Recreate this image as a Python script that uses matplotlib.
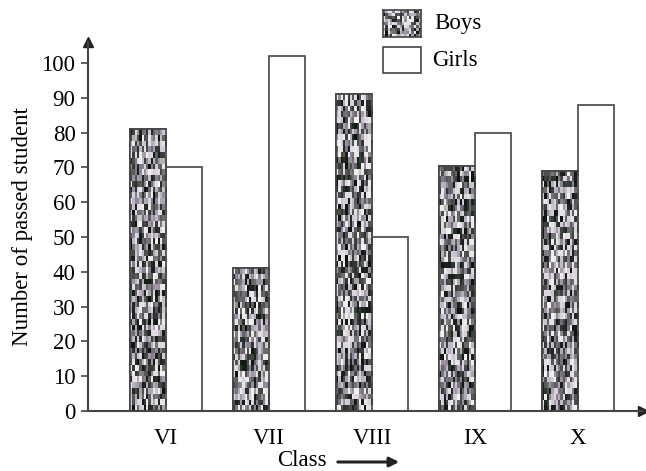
import numpy as np
import matplotlib.pyplot as plt
from matplotlib.patches import Rectangle
from matplotlib.colors import LinearSegmentedColormap

classes = ['VI', 'VII', 'VIII', 'IX', 'X']
boys = [81, 41, 91, 70.5, 69]
girls = [70, 102, 50, 80, 88]
yticks = [0, 10, 20, 30, 40, 50, 60, 70, 80, 90, 100]

plt.rcParams['font.family'] = ['Liberation Serif', 'DejaVu Serif']
fs = 16.5

W, H = 646, 471
fig = plt.figure(figsize=(W / 100, H / 100), dpi=100)
ax = fig.add_axes([88 / W, 60 / H, (643 - 88) / W, (411 - 42) / H])

x = np.arange(len(classes))
w = 0.35
edge = '#444444'

rng = np.random.default_rng(3)
# dark grey -> purplish grey -> near white, like the scanned fill
scan = LinearSegmentedColormap.from_list('scan', ['#0c1410', '#4a4f4a', '#8c8494', '#d8d2dc', '#f4f4f0'])


def noise_texture(rows, cols):
    # streaky noise, taller than wide
    base = rng.random((rows, cols)) ** 1.1
    return np.repeat(base, 2, axis=0)


boy_bars = ax.bar(x - w / 2, boys, w, color='#666666', edgecolor=edge, lw=1.2, zorder=2)
girl_bars = ax.bar(x + w / 2, girls, w, color='white', edgecolor=edge, lw=1.2, zorder=2)

for b in boy_bars:
    x0, y0 = b.get_x(), b.get_y()
    bw, bh = b.get_width(), b.get_height()
    img = noise_texture(int(bh * 0.6) + 1, 16)
    im = ax.imshow(img, cmap=scan, vmin=0, vmax=1, aspect='auto',
                   extent=[x0, x0 + bw, y0, y0 + bh], zorder=2.5,
                   interpolation='nearest')
    im.set_clip_path(b)
    ax.add_patch(Rectangle((x0, y0), bw, bh, fill=False, edgecolor=edge, lw=1.2, zorder=3))

ax.set_xlim(-0.757, 4.63)
ax.set_ylim(0, 106)
ax.set_yticks(yticks)
ax.set_xticks(x)
ax.set_xticklabels(classes)
ax.tick_params(axis='y', labelsize=fs, length=5, width=1.2, color=edge, pad=4)
ax.tick_params(axis='x', labelsize=fs, length=0, pad=12)
for s in ['top', 'right']:
    ax.spines[s].set_visible(False)
for s in ['left', 'bottom']:
    ax.spines[s].set_color(edge)
    ax.spines[s].set_linewidth(1.5)
ax.plot(1, 0, '>', color='#222222', ms=7, transform=ax.transAxes, clip_on=False)
ax.plot(0, 1, '^', color='#222222', ms=7, transform=ax.transAxes, clip_on=False)

ax.set_ylabel('Number of passed student', fontsize=fs, labelpad=6)

# x label with arrow
fig.text(302 / W, 1 - 461 / H, 'Class', fontsize=fs, ha='center', va='center')
fig.add_artist(plt.Annotation('', xy=(402 / W, 1 - 462 / H), xytext=(335 / W, 1 - 462 / H),
                              xycoords='figure fraction',
                              arrowprops=dict(arrowstyle='-|>', color='#222222', lw=2.2,
                                              mutation_scale=14)))

# legend
lx, lw_, lh = 383, 38, 27
lax = fig.add_axes([lx / W, 1 - 37 / H, lw_ / W, lh / H])
lax.imshow(rng.random((9, 16)), cmap=scan, vmin=0, vmax=1, aspect='auto', interpolation='nearest')
lax.set_xticks([])
lax.set_yticks([])
for s in lax.spines.values():
    s.set_color(edge)
    s.set_linewidth(1.2)
fig.add_artist(Rectangle((lx / W, 1 - 73 / H), lw_ / W, 26 / H, transform=fig.transFigure,
                         facecolor='white', edgecolor=edge, lw=1.2))
fig.text(434 / W, 1 - 23 / H, 'Boys', fontsize=fs, va='center')
fig.text(432 / W, 1 - 60 / H, 'Girls', fontsize=fs, va='center')

fig.savefig('out.png', dpi=100)
